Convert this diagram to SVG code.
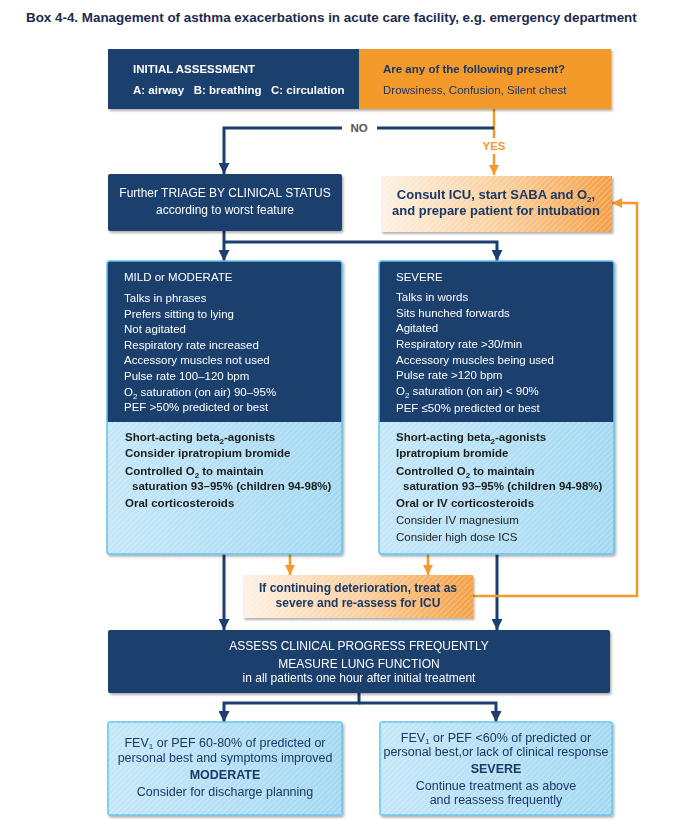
<svg xmlns="http://www.w3.org/2000/svg" width="683" height="825" viewBox="0 0 683 825">
<style>
text{font-family:"Liberation Sans",Arial,sans-serif;font-size:11.5px}
.w{fill:#fff}
.b{font-weight:bold}
.n{fill:#1c3764}
.k{fill:#1c1c1c}
.navy{fill:#1b3f6e}
.lbox{fill:url(#lbg);stroke:#62c3ec;stroke-width:1.5}
.hat{fill:url(#hatch)}
.obox{fill:url(#og)}
.edge{fill:none;stroke:#1b3f6e;stroke-width:3}
.oedge{fill:none;stroke:#f39a2f;stroke-width:2.5}
.c{text-anchor:middle}
.sub{font-size:8px}
</style>
<defs>
<pattern id="hatch" width="4" height="4" patternUnits="userSpaceOnUse" patternTransform="rotate(45)">
<line x1="0" y1="0" x2="0" y2="4" stroke="#fff" stroke-width="1" stroke-opacity="0.6"/>
</pattern>
<linearGradient id="og" x1="0" x2="1" y1="0" y2="0">
<stop offset="0" stop-color="#fdf1e4"/><stop offset="0.55" stop-color="#f9cd98"/><stop offset="1" stop-color="#f49f45"/>
</linearGradient>
<linearGradient id="lbg" x1="0" x2="1" y1="0" y2="0">
<stop offset="0" stop-color="#c4e7f8"/><stop offset="1" stop-color="#a3d8f2"/>
</linearGradient>
<filter id="sh" x="-5%" y="-5%" width="112%" height="125%">
<feDropShadow dx="1.5" dy="2" stdDeviation="1.2" flood-color="#000" flood-opacity="0.3"/>
</filter>
<marker id="an" viewBox="0 0 10 10" refX="10" refY="5" markerWidth="11" markerHeight="11" markerUnits="userSpaceOnUse" orient="auto">
<path d="M0,0 L10,5 L0,10 z" fill="#1b3f6e"/>
</marker>
<marker id="ao" viewBox="0 0 10 10" refX="10" refY="5" markerWidth="10" markerHeight="10" markerUnits="userSpaceOnUse" orient="auto">
<path d="M0,0 L10,5 L0,10 z" fill="#f39a2f"/>
</marker>
</defs>

<text x="26" y="22" class="b" style="font-size:13.4px" fill="#1d2b4f">Box 4-4. Management of asthma exacerbations in acute care facility, e.g. emergency department</text>

<g id="connectors">
<path class="oedge" d="M494,109 V138"/>
<text x="494" y="150" class="b c" fill="#f39a2f">YES</text>
<path class="oedge" d="M494,154 V175" marker-end="url(#ao)"/>
<path class="edge" d="M494,128 H377"/>
<path class="edge" d="M342,128 H224 V174" marker-end="url(#an)"/>
<text x="359" y="132" class="b c" fill="#555">NO</text>
<path class="edge" d="M224,231 V261" marker-end="url(#an)"/>
<path class="edge" d="M224,242 H497 V261" marker-end="url(#an)"/>
<path class="edge" d="M224,554 V630" marker-end="url(#an)"/>
<path class="edge" d="M497,554 V630" marker-end="url(#an)"/>
<path class="oedge" d="M290,554 V575" marker-end="url(#ao)"/>
<path class="oedge" d="M428,554 V575" marker-end="url(#ao)"/>
<path class="oedge" d="M473,596 H637 V203 H612" marker-end="url(#ao)"/>
<path class="edge" d="M359,693 V703 H224 V722" marker-end="url(#an)"/>
<path class="edge" d="M359,703 H496 V722" marker-end="url(#an)"/>
</g>

<g id="initial" filter="url(#sh)">
<rect x="108" y="49" width="252" height="60" class="navy"/>
<rect x="359" y="49" width="252" height="60" fill="#f39a2b"/>
<text x="133" y="73" class="w b">INITIAL ASSESSMENT</text>
<text x="133" y="94" class="w b" xml:space="preserve">A: airway   B: breathing   C: circulation</text>
<text x="383" y="73" class="n b">Are any of the following present?</text>
<text x="383" y="94" class="n">Drowsiness, Confusion, Silent chest</text>
</g>

<g id="triage" filter="url(#sh)">
<rect x="108" y="174" width="234" height="57" rx="2" class="navy"/>
<text x="225" y="197" class="w c" style="font-size:12px">Further TRIAGE BY CLINICAL STATUS</text>
<text x="225" y="214" class="w c" style="font-size:12px">according to worst feature</text>
</g>

<g id="consult" filter="url(#sh)">
<rect x="381" y="176" width="231" height="56" class="obox"/>
<rect x="381" y="176" width="231" height="56" class="hat"/>
<text x="496" y="199" class="n b c" style="font-size:13px">Consult ICU, start SABA and O<tspan class="sub" dy="3">2</tspan><tspan dy="-3">,</tspan></text>
<text x="496" y="215" class="n b c" style="font-size:13px">and prepare patient for intubation</text>
</g>

<g id="mild" filter="url(#sh)">
<rect x="107" y="261" width="235" height="293" rx="3" fill="url(#lbg)"/>
<rect x="107" y="261" width="235" height="293" rx="3" class="hat"/>
<path d="M110,261 H339 a3,3 0 0 1 3,3 V422 H107 V264 a3,3 0 0 1 3,-3 z" class="navy"/>
<rect x="107" y="261" width="235" height="293" rx="3" fill="none" stroke="#62c3ec" stroke-width="1.5"/>
<text x="124" y="281" class="w">MILD or MODERATE</text>
<text x="124" y="302" class="w">Talks in phrases</text>
<text x="124" y="318" class="w">Prefers sitting to lying</text>
<text x="124" y="333" class="w">Not agitated</text>
<text x="124" y="349" class="w">Respiratory rate increased</text>
<text x="124" y="364" class="w">Accessory muscles not used</text>
<text x="124" y="380" class="w">Pulse rate 100–120 bpm</text>
<text x="124" y="396" class="w">O<tspan class="sub" dy="3">2</tspan><tspan dy="-3"> saturation (on air) 90–95%</tspan></text>
<text x="124" y="411" class="w">PEF &gt;50% predicted or best</text>
<text x="125" y="441" class="k b">Short-acting beta<tspan class="sub" dy="3">2</tspan><tspan dy="-3">-agonists</tspan></text>
<text x="125" y="457" class="k b">Consider ipratropium bromide</text>
<text x="125" y="475" class="k b">Controlled O<tspan class="sub" dy="3">2</tspan><tspan dy="-3"> to maintain</tspan></text>
<text x="132" y="490" class="k b">saturation 93–95% (children 94-98%)</text>
<text x="125" y="507" class="k b">Oral corticosteroids</text>
</g>

<g id="severe" filter="url(#sh)">
<rect x="379" y="261" width="235" height="293" rx="3" fill="url(#lbg)"/>
<rect x="379" y="261" width="235" height="293" rx="3" class="hat"/>
<path d="M382,261 H611 a3,3 0 0 1 3,3 V422 H379 V264 a3,3 0 0 1 3,-3 z" class="navy"/>
<rect x="379" y="261" width="235" height="293" rx="3" fill="none" stroke="#62c3ec" stroke-width="1.5"/>
<text x="396" y="281" class="w">SEVERE</text>
<text x="396" y="301" class="w">Talks in words</text>
<text x="396" y="317" class="w">Sits hunched forwards</text>
<text x="396" y="332" class="w">Agitated</text>
<text x="396" y="348" class="w">Respiratory rate &gt;30/min</text>
<text x="396" y="364" class="w">Accessory muscles being used</text>
<text x="396" y="379" class="w">Pulse rate &gt;120 bpm</text>
<text x="396" y="395" class="w">O<tspan class="sub" dy="3">2</tspan><tspan dy="-3"> saturation (on air) &lt; 90%</tspan></text>
<text x="396" y="412" class="w">PEF ≤50% predicted or best</text>
<text x="396" y="441" class="k b">Short-acting beta<tspan class="sub" dy="3">2</tspan><tspan dy="-3">-agonists</tspan></text>
<text x="396" y="457" class="k b">Ipratropium bromide</text>
<text x="396" y="475" class="k b">Controlled O<tspan class="sub" dy="3">2</tspan><tspan dy="-3"> to maintain</tspan></text>
<text x="403" y="490" class="k b">saturation 93–95% (children 94-98%)</text>
<text x="396" y="507" class="k b">Oral or IV corticosteroids</text>
<text x="396" y="524" class="k">Consider IV magnesium</text>
<text x="396" y="541" class="k">Consider high dose ICS</text>
</g>

<g id="deterioration" filter="url(#sh)">
<rect x="243" y="575" width="230" height="43" class="obox"/>
<rect x="243" y="575" width="230" height="43" class="hat"/>
<text x="358" y="592" class="n b c" style="font-size:12px">If continuing deterioration, treat as</text>
<text x="358" y="607" class="n b c" style="font-size:12px">severe and re-assess for ICU</text>
</g>

<g id="assess" filter="url(#sh)">
<rect x="108" y="630" width="502" height="63" rx="2" class="navy"/>
<text x="359" y="650" class="w c" style="font-size:12px">ASSESS CLINICAL PROGRESS FREQUENTLY</text>
<text x="359" y="668" class="w c" style="font-size:12px">MEASURE LUNG FUNCTION</text>
<text x="359" y="682" class="w c" style="font-size:12px">in all patients one hour after initial treatment</text>
</g>

<g id="moderate-outcome" filter="url(#sh)">
<rect x="108" y="722" width="234" height="93" rx="2" class="lbox"/>
<rect x="108" y="722" width="234" height="93" rx="2" class="hat"/>
<text x="225" y="747" class="n c" style="font-size:12.5px">FEV<tspan class="sub" dy="2">1</tspan><tspan dy="-2"> or PEF 60-80% of predicted or</tspan></text>
<text x="225" y="762" class="n c" style="font-size:12.5px">personal best and symptoms improved</text>
<text x="225" y="779" class="n b c" style="font-size:12.5px">MODERATE</text>
<text x="225" y="796" class="n c" style="font-size:12.5px">Consider for discharge planning</text>
</g>

<g id="severe-outcome" filter="url(#sh)">
<rect x="380" y="722" width="232" height="93" rx="2" class="lbox"/>
<rect x="380" y="722" width="232" height="93" rx="2" class="hat"/>
<text x="496" y="742" class="n c" style="font-size:12.5px">FEV<tspan class="sub" dy="2">1</tspan><tspan dy="-2"> or PEF &lt;60% of predicted or</tspan></text>
<text x="496" y="756" class="n c" style="font-size:12.5px">personal best,or lack of clinical response</text>
<text x="496" y="773" class="n b c" style="font-size:12.5px">SEVERE</text>
<text x="496" y="790" class="n c" style="font-size:12.5px">Continue treatment as above</text>
<text x="496" y="804" class="n c" style="font-size:12.5px">and reassess frequently</text>
</g>
</svg>
